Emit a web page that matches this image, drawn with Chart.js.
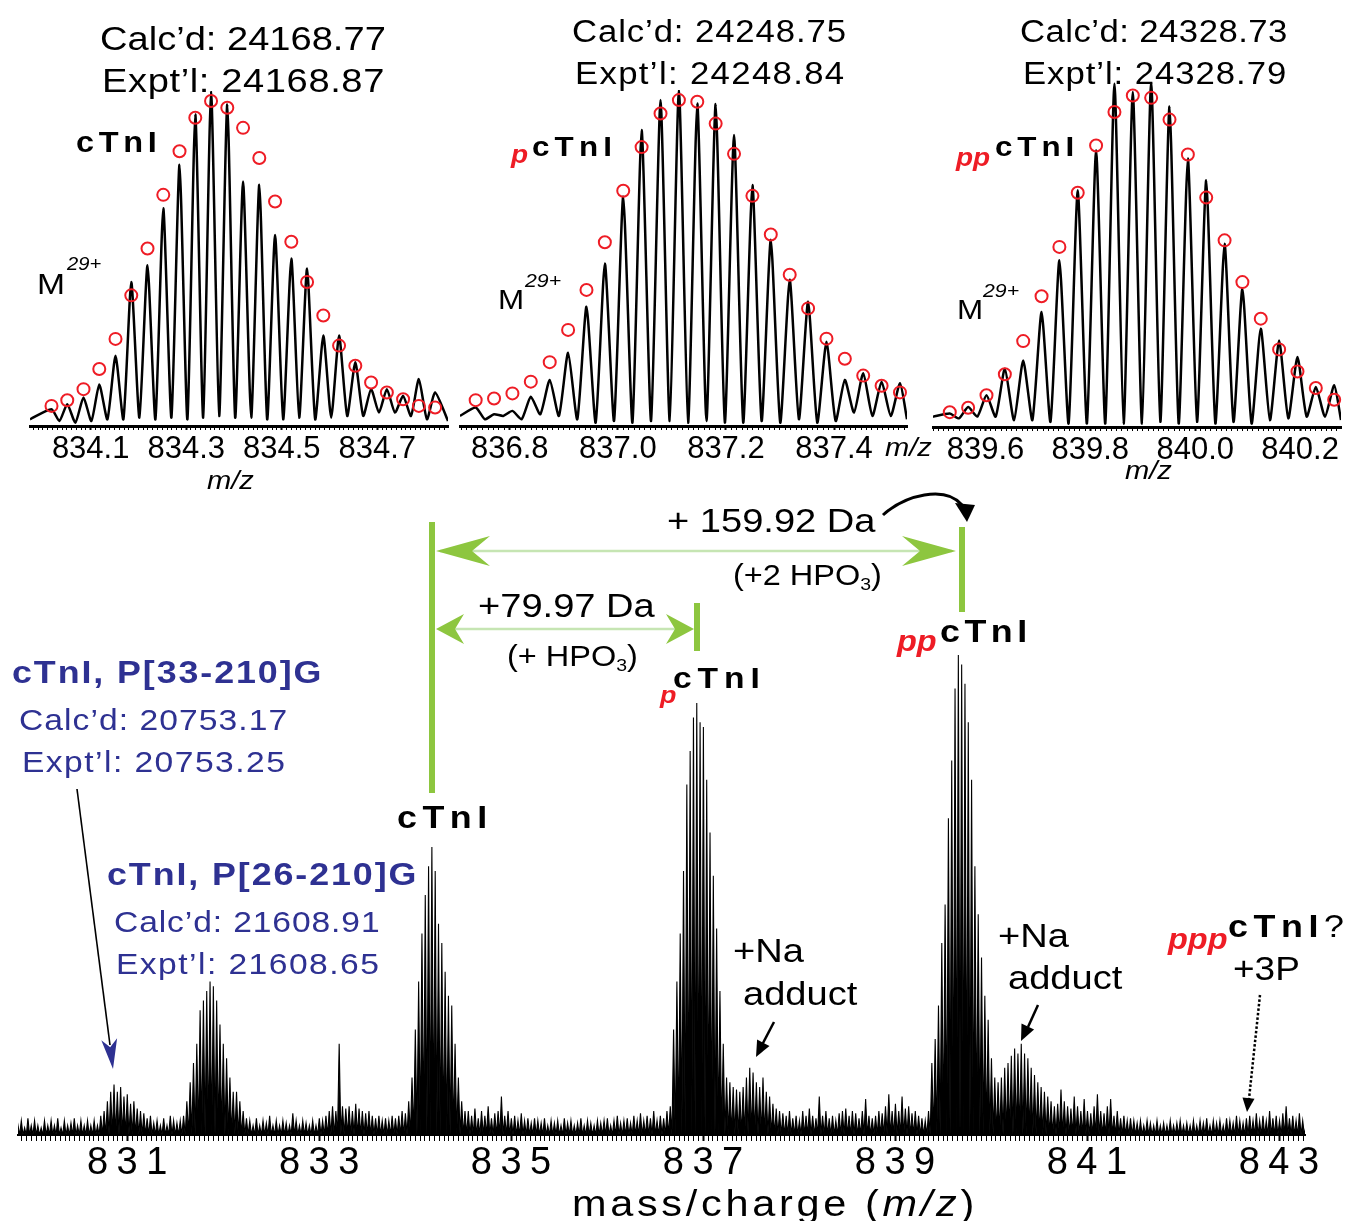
<!DOCTYPE html>
<html><head><meta charset="utf-8">
<script src="https://cdn.jsdelivr.net/npm/chart.js@4.4.1/dist/chart.umd.min.js"></script>
<style>
html,body{margin:0;padding:0;background:#fff;}
#stage{position:relative;width:1349px;height:1221px;overflow:hidden;font-family:"Liberation Sans",Arial,sans-serif;color:#000;}
.c{position:absolute;}
.t{position:absolute;white-space:nowrap;line-height:1;transform:scaleX(1.12);transform-origin:0 0;}
.b{font-weight:bold;}
.r{color:#ee1c25;font-weight:bold;font-style:italic;}
.bl{color:#2e3192;}
.s3{font-size:0.6em;position:relative;top:0.3em;}
</style></head><body><div id="stage">
<div class="c" style="left:0;top:480px;"><canvas id="main" width="1349" height="741"></canvas></div>
<div class="c" style="left:0;top:0;"><canvas id="ins1" width="460" height="500"></canvas></div>
<div class="c" style="left:450px;top:0;"><canvas id="ins2" width="470" height="500"></canvas></div>
<div class="c" style="left:925px;top:0;"><canvas id="ins3" width="424" height="500"></canvas></div>

<!-- inset texts -->
<div class="t" style="left:100px;top:21px;font-size:34px;letter-spacing:0px">Calc’d: 24168.77</div>
<div class="t" style="left:102px;top:63px;font-size:34px;letter-spacing:0.55px">Expt’l: 24168.87</div>
<div class="t" style="left:572px;top:16px;font-size:31px;letter-spacing:0.8px">Calc’d: 24248.75</div>
<div class="t" style="left:575px;top:58px;font-size:31px;letter-spacing:1.2px">Expt’l: 24248.84</div>
<div class="t" style="left:1020px;top:16px;font-size:31px;letter-spacing:0.4px">Calc’d: 24328.73</div>
<div class="t" style="left:1023px;top:58px;font-size:31px;letter-spacing:0.85px">Expt’l: 24328.79</div>

<div class="t b" style="left:76px;top:128px;font-size:29px;letter-spacing:4.2px">cTnI</div>
<div class="t r" style="left:511px;top:142px;font-size:25px">p</div>
<div class="t b" style="left:532px;top:133px;font-size:28px;letter-spacing:4.6px">cTnI</div>
<div class="t r" style="left:956px;top:145px;font-size:25px">pp</div>
<div class="t b" style="left:995px;top:133px;font-size:28px;letter-spacing:4.4px">cTnI</div>

<div class="t" style="left:37px;top:269px;font-size:30px">M</div>
<div class="t" style="left:67px;top:255px;font-size:18px;font-style:italic">29+</div>
<div class="t" style="left:498px;top:286px;font-size:28px">M</div>
<div class="t" style="left:525px;top:271px;font-size:19px;font-style:italic">29+</div>
<div class="t" style="left:957px;top:296px;font-size:28px">M</div>
<div class="t" style="left:983px;top:281px;font-size:19px;font-style:italic">29+</div>

<div class="t" style="left:207px;top:467px;font-size:26px;font-style:italic">m/z</div>
<div class="t" style="left:885px;top:434px;font-size:26px;font-style:italic">m/z</div>
<div class="t" style="left:1125px;top:457px;font-size:26px;font-style:italic">m/z</div>

<!-- main texts -->
<div class="t" style="left:667px;top:503px;font-size:34px">+ 159.92 Da</div>
<div class="t" style="left:733px;top:561px;font-size:29px">(+2 HPO<span class="s3">3</span>)</div>
<div class="t" style="left:478px;top:588px;font-size:34px">+79.97 Da</div>
<div class="t" style="left:507px;top:642px;font-size:29px">(+ HPO<span class="s3">3</span>)</div>

<div class="t b" style="left:397px;top:801px;font-size:32px;letter-spacing:4.9px">cTnI</div>
<div class="t r" style="left:660px;top:683px;font-size:24px">p</div>
<div class="t b" style="left:673px;top:663px;font-size:30px;letter-spacing:5.3px">cTnI</div>
<div class="t r" style="left:897px;top:627px;font-size:29px">pp</div>
<div class="t b" style="left:940px;top:615px;font-size:32px;letter-spacing:4px">cTnI</div>
<div class="t r" style="left:1168px;top:925px;font-size:29px">ppp</div>
<div class="t" style="left:1228px;top:910px;font-size:32px;letter-spacing:5px"><b>cTnI</b>?</div>
<div class="t" style="left:1233px;top:952px;font-size:33px">+3P</div>

<div class="t" style="left:733px;top:933px;font-size:34px">+Na</div>
<div class="t" style="left:743px;top:976px;font-size:34px">adduct</div>
<div class="t" style="left:998px;top:918px;font-size:34px">+Na</div>
<div class="t" style="left:1008px;top:960px;font-size:34px">adduct</div>

<div class="t b bl" style="left:12px;top:656px;font-size:32px;letter-spacing:1.7px">cTnI, P[33-210]G</div>
<div class="t bl" style="left:19px;top:705px;font-size:30px;letter-spacing:0.95px">Calc’d: 20753.17</div>
<div class="t bl" style="left:22px;top:747px;font-size:30px;letter-spacing:1.3px">Expt’l: 20753.25</div>
<div class="t b bl" style="left:107px;top:858px;font-size:32px;letter-spacing:1.7px">cTnI, P[26-210]G</div>
<div class="t bl" style="left:114px;top:907px;font-size:30px;letter-spacing:0.8px">Calc’d: 21608.91</div>
<div class="t bl" style="left:116px;top:949px;font-size:30px;letter-spacing:1.3px">Expt’l: 21608.65</div>

<div class="t" style="left:572px;top:1185px;font-size:37px;letter-spacing:3.3px">mass/charge (<i>m/z</i>)</div>

<svg class="c" style="left:0;top:0" width="1349" height="1221">
 <rect x="429" y="522" width="6" height="271" fill="#8dc63f"/>
 <rect x="694" y="603" width="6" height="48" fill="#8dc63f"/>
 <rect x="959" y="527" width="6" height="85" fill="#8dc63f"/>
 <line x1="440" y1="551" x2="952" y2="551" stroke="#c6e5b3" stroke-width="2.5"/>
 <path d="M436,551 L490,536 L472,551 L490,566 Z" fill="#8dc63f"/>
 <path d="M956,551 L902,536 L920,551 L902,566 Z" fill="#8dc63f"/>
 <line x1="440" y1="629" x2="690" y2="629" stroke="#c6e5b3" stroke-width="2.5"/>
 <path d="M436,629 L464,614 L455,629 L464,644 Z" fill="#8dc63f"/>
 <path d="M694,629 L666,614 L675,629 L666,644 Z" fill="#8dc63f"/>
 <path d="M883,515 C905,495 945,485 962,505" fill="none" stroke="#000" stroke-width="3"/>
 <path d="M967,522 L955,503 L975,505 Z" fill="#000"/>
 <line x1="774" y1="1022" x2="762" y2="1045" stroke="#000" stroke-width="2.5"/>
 <path d="M756,1057 L769.5,1046 L757.1,1039.6 Z" fill="#000"/>
 <line x1="1038" y1="1005" x2="1028" y2="1027" stroke="#000" stroke-width="2.5"/>
 <path d="M1021,1041 L1034.1,1029.5 L1021.5,1023.5 Z" fill="#000"/>
 <line x1="77" y1="789" x2="110" y2="1045" stroke="#000" stroke-width="1.6"/>
 <path d="M113,1069 L117.1,1038.2 L110.2,1047.2 L101.3,1040.2 Z" fill="#2e3192"/>
 <line x1="1260" y1="995" x2="1249" y2="1099" stroke="#000" stroke-width="2.5" stroke-dasharray="2.5,2"/>
 <path d="M1247,1112 L1254.5,1098.8 L1242.5,1097.4 Z" fill="#000"/>
</svg>
</div>
<script>
// ---------------- main spectrum (M29+ charge-state region) ----------------
const mainStartMz = 829.86;
const isotopeSpacing = 0.0345; // m/z between isotopic peaks (z = 29)
const mainIntensity = [
 2,3,1.5,3.5,2,3,2,1.5,3,2,
 3,2,3.5,1.5,3,2,2.5,3.5,2,3,
 2,3,2,3,2,4,5,7,9,10.5,
 9,10,8,8.5,6.5,7,5.5,5,4.5,3.5,
 4,2.5,3,2,3.5,2,4,3,2.5,3,
 4,7,11,15,19,26,28,30,32,31,
 28,23,19,16,12,9,9,7,5,3.5,
 3,2,3.5,2,3,2.5,4,2,3,2,
 3,2.5,2,4.5,3,2,3,2.5,2,3,
 2,3.5,3,4,5,6,5,19,6,5.5,
 6,5,6.5,5.5,5,4.5,5,4,3.5,4,
 3,3.5,3,4,3.5,4,5,4.5,7,12,
 22,32,42,50,56,60,55,44,40,34,
 29,27,19,12,7,5,5,4,5.5,3.5,
 5,4,6,3.5,4.5,5,8,4,5,3.5,
 4,3,4.5,3,3.5,2.5,3.5,3,2.5,3.5,
 2,3,2.5,3,2,3.5,2.5,3,2,2.5,
 3.5,2,3,2.5,2,3,2.5,3,3.5,2,
 3,4,2.5,3,3.5,2.5,4,3,4.5,3,
 4,3.5,5,3,4,3.5,5,6,22,32,
 42,55,73,80,87,90,86,85,74,63,
 54,43,30,19,12,11,10,9.5,9,10,
 12,14,13,11,10,12,9,8,6.5,5.5,
 5,4.5,4,5,3.5,4,3,5,4,5.5,
 4,3.5,8,4,5,3.5,4,3,4.5,5,
 5.5,4,5,4.5,3.5,5,7.5,4,3.5,4,
 5,4.5,6,8.5,5,6.5,5,8,5.5,6,
 4.5,5,4,3.5,3,5,15,20,27,40,
 48,66,78,93,100,98,94,86,74,56,
 46,37,29,24,16,12,11,12,14,15,
 16.5,18,17,19,17,16,14,12.5,11,10,
 9,8,7,6,6.5,9.5,7,6,5.5,8,
 6,5,7.5,5,4.5,6,8.5,5,4.5,6,
 7.5,4,5,3.5,4,3,3.5,3,2.5,3,
 2,3,2.5,2,3,2,2.5,2,3,2,
 2.5,3,2,2.5,2,3,2,3,2.5,3.5,
 2,3,2.5,3,2,3.5,3,2.5,4,3,
 2.5,3.5,4,3,4.5,3,4,3,5,3.5,
 4,3,4.5,6,3.5,4,3,4.5,3,2
];
const mainTickLabels = [831, 833, 835, 837, 839, 841, 843];

// ---------------- inset 1: cTnI ----------------
const cTnIMz = [834.018,834.051,834.085,834.118,834.152,834.185,834.219,834.252,834.286,834.319,834.352,834.386,834.419,834.453,834.486,834.520,834.553,834.587,834.620,834.654,834.687,834.720,834.754,834.787,834.821];
const cTnIPeaks = [5,6.5,8.5,12.4,21,43,48,65,78,93,100,96,73,72,57,50,47,27,27,19,11,11,9,14,10];
const cTnIValleys = [2,1.5,1,1.5,2,2,2.5,2,2.5,2,2.5,3,2.5,2.5,2,2,2.5,2,2.5,3,3,4,4,3,2,1.5];
const cTnITheory = [6,7.7,11,17,26,39,53,69,82,92,97,95,89,80,67,55,43,33,24,18,13,10,8,6,5.5];
const cTnITicks = [834.1, 834.3, 834.5, 834.7];

// ---------------- inset 2: pcTnI ----------------
const pcTnIMz = [836.737,836.771,836.805,836.839,836.874,836.908,836.942,836.976,837.010,837.044,837.079,837.113,837.147,837.181,837.215,837.249,837.283,837.318,837.352,837.386,837.420,837.454,837.488,837.522];
const pcTnIPeaks = [5.5,3.5,4.5,8.7,13.7,21.8,35.5,48.4,68.3,88.1,97,100,96,95.8,86.6,71.7,55.4,43.5,37,25.1,13.7,15.7,13.2,12.7];
const pcTnIValleys = [3,2,3,2,3.5,3,2,1,1.5,1,1.5,1.5,1,1.5,1,1,1.5,1,2,1,1.5,4,3,3,2];
const pcTnITheory = [7.7,8.2,9.7,13.2,19,28.6,40.5,54.7,70,83,93,97,96.5,90,81,68.5,57,45,35,26,20,15,12,10];
const pcTnITicks = [836.8, 837.0, 837.2, 837.4];

// ---------------- inset 3: ppcTnI ----------------
const ppcTnIMz = [839.532,839.567,839.602,839.637,839.672,839.707,839.741,839.776,839.811,839.846,839.881,839.916,839.951,839.986,840.021,840.056,840.090,840.125,840.160,840.195,840.230,840.265];
const ppcTnIPeaks = [3.9,5.8,9.2,16.9,19.3,33.3,48.3,68.6,80.2,99.5,97.1,100,92.9,77.8,71.5,53.1,40.1,28.5,25.1,20.3,11.6,12.1];
const ppcTnIValleys = [3,2.5,3,3,2,2,1.5,1,1,1,1,1,1.5,1,1.5,1,1.5,1,2,2.5,3,3,2];
const ppcTnITheory = [4.3,5.6,9.2,15.3,24.9,37.9,52.2,67.9,81.6,91.3,96.1,95.4,89.1,79,66.5,54.1,42,31.4,22.5,16.1,11.3,7.9];
const ppcTnITicks = [839.6, 839.8, 840.0, 840.2];

const RED = '#ee1c25';

// stick spectrum: each isotopic peak drawn up from the baseline
function stickTrace(start, step, vals) {
  const pts = [];
  vals.forEach((v, i) => {
    const m = start + i * step;
    pts.push({x: m - step / 2, y: 0});
    pts.push({x: m, y: v});
  });
  pts.push({x: start + (vals.length - 0.5) * step, y: 0});
  return pts;
}
// profile trace: read valleys between read peaks
function profileTrace(mz, peaks, valleys, xmin, xmax) {
  const pts = [{x: xmin, y: valleys[0]}];
  mz.forEach((m, i) => {
    pts.push({x: m, y: peaks[i]});
    const nx = i < mz.length - 1 ? (m + mz[i + 1]) / 2 : xmax;
    pts.push({x: nx, y: valleys[i + 1]});
  });
  return pts;
}
function tickGrid(min, max, step) {
  const out = [];
  for (let k = Math.ceil(min / step - 1e-9); k <= Math.floor(max / step + 1e-9); k++) out.push(+(k * step).toFixed(4));
  return out;
}
function makeChart(id, cfg) {
  const isLabel = v => cfg.labels.some(l => Math.abs(l - v) < 1e-6);
  return new Chart(document.getElementById(id), {
    type: 'line',
    data: {datasets: cfg.datasets},
    options: {
      responsive: false, animation: false, events: [],
      layout: {padding: cfg.padding},
      plugins: {legend: {display: false}, tooltip: {enabled: false}},
      scales: {
        x: {
          type: 'linear', min: cfg.xmin, max: cfg.xmax,
          afterFit: s => { s.height = cfg.axisHeight; },
          afterBuildTicks: s => { s.ticks = cfg.tickValues.map(v => ({value: v})); },
          ticks: {
            autoSkip: false, maxRotation: 0, minRotation: 0, color: '#000',
            padding: cfg.tickPadding, labelOffset: cfg.labelOffset || 0,
            font: {family: '"Liberation Sans", Arial, sans-serif', size: cfg.tickFont},
            callback: v => isLabel(v) ? cfg.fmt(v) : ''
          },
          grid: {
            drawOnChartArea: false, drawTicks: true, tickLength: cfg.tickLength, tickColor: '#000',
            tickWidth: c => (c.tick && isLabel(c.tick.value)) ? 2 : 1
          },
          border: {display: true, color: '#000', width: cfg.borderWidth}
        },
        y: {display: false, min: 0, max: cfg.ymax}
      }
    },
    plugins: [{id: 'spacing', beforeDraw(ch) { ch.ctx.letterSpacing = cfg.letterSpacing || '0px'; }}]
  });
}

// main
makeChart('main', {
  xmin: 829.86, xmax: 843.27, ymax: 100,
  padding: {left: 18, right: 44, top: 175, bottom: 0},
  axisHeight: 86, tickFont: 38, tickPadding: 0, tickLength: 6, borderWidth: 2,
  letterSpacing: '8.5px', labelOffset: 4,
  labels: mainTickLabels, fmt: v => String(Math.round(v)),
  tickValues: tickGrid(829.86, 843.27, 0.05),
  datasets: [{
    data: stickTrace(mainStartMz, isotopeSpacing, mainIntensity),
    borderColor: '#000', backgroundColor: '#000', borderWidth: 1.1,
    fill: 'origin', pointRadius: 0, tension: 0
  }]
});

function inset(id, mz, peaks, valleys, theory, ticks, xmin, xmax, padding, axisHeight) {
  makeChart(id, {
    xmin, xmax, ymax: 100, padding, axisHeight,
    tickFont: 31, tickPadding: 1, tickLength: 4, borderWidth: 3,
    labels: ticks, fmt: v => v.toFixed(1),
    tickValues: tickGrid(xmin, xmax, 0.01),
    datasets: [
      {data: mz.map((m, i) => ({x: m, y: theory[i]})), showLine: false,
       pointRadius: 6, pointBorderWidth: 2, pointBorderColor: RED,
       pointBackgroundColor: 'rgba(0,0,0,0)', clip: false},
      {data: profileTrace(mz, peaks, valleys, xmin, xmax), borderColor: '#000',
       borderWidth: 2.5, pointRadius: 0, tension: 0.2, fill: false}
    ]
  });
}
inset('ins1', cTnIMz, cTnIPeaks, cTnIValleys, cTnITheory, cTnITicks, 833.973, 834.848,
      {left: 30, right: 12, top: 91, bottom: 0}, 74);
inset('ins2', pcTnIMz, pcTnIPeaks, pcTnIValleys, pcTnITheory, pcTnITicks, 836.708, 837.535,
      {left: 10, right: 13, top: 90, bottom: 0}, 74);
inset('ins3', ppcTnIMz, ppcTnIPeaks, ppcTnIValleys, ppcTnITheory, ppcTnITicks, 839.50, 840.278,
      {left: 7, right: 0, top: 82, bottom: 0}, 73);
</script>
</body></html>
